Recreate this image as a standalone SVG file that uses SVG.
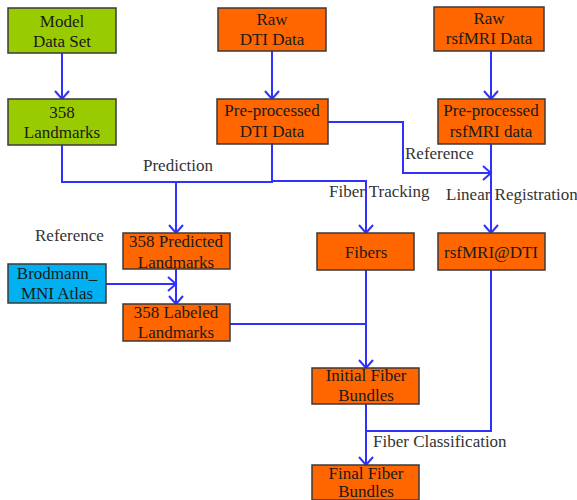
<svg xmlns="http://www.w3.org/2000/svg" width="577" height="500" viewBox="0 0 577 500">
<defs>
<marker id="arr" markerUnits="userSpaceOnUse" markerWidth="16" markerHeight="16" refX="9" refY="8" orient="auto">
<path d="M1,1 L9,8 L1,15" fill="none" stroke="#3030ff" stroke-width="2"/>
</marker>
</defs>
<style>
.box{stroke:#3a3a3a;stroke-width:1.5}
.g{fill:#99cc00}
.o{fill:#ff6600}
.b{fill:#00b0f0}
.t{font-family:"Liberation Serif","Times New Roman",serif;font-size:17px;fill:#1a1a1a;text-anchor:middle}
.l{font-family:"Liberation Serif","Times New Roman",serif;font-size:17px;fill:#333}
.c{fill:none;stroke:#3030ff;stroke-width:2}
</style>
<rect width="577" height="500" fill="#fff"/>
<g id="connectors">
<path class="c" d="M62,53 V99" marker-end="url(#arr)"/>
<path class="c" d="M272,51 V99" marker-end="url(#arr)"/>
<path class="c" d="M491,51 V99" marker-end="url(#arr)"/>
<path class="c" d="M62,145 V182 H273"/>
<path class="c" d="M272,144 V181 H366 V233" marker-end="url(#arr)"/>
<path class="c" d="M176,182 V233" marker-end="url(#arr)"/>
<path class="c" d="M328,122 H403 V173 H491" marker-end="url(#arr)"/>
<path class="c" d="M491,144 V233" marker-end="url(#arr)"/>
<path class="c" d="M176,269 V304" marker-end="url(#arr)"/>
<path class="c" d="M106,284 H176" marker-end="url(#arr)"/>
<path class="c" d="M230,324 H366"/>
<path class="c" d="M366,270 V368" marker-end="url(#arr)"/>
<path class="c" d="M491,270 V431 H366"/>
<path class="c" d="M366,404 V465" marker-end="url(#arr)"/>
<text class="l" x="405" y="159">Reference</text>
<text class="l" x="143" y="171">Prediction</text>
<text class="l" x="329" y="197">Fiber Tracking</text>
<text class="l" x="446" y="200">Linear Registration</text>
<text class="l" x="35" y="241">Reference</text>
<text class="l" x="373" y="447">Fiber Classification</text>
</g>
<g id="model-data-set"><rect class="box g" x="8" y="8" width="108" height="45"/><text class="t" x="62" y="27">Model</text><text class="t" x="62" y="47">Data Set</text></g>
<g id="landmarks-358"><rect class="box g" x="8" y="99" width="108" height="46"/><text class="t" x="62" y="118">358</text><text class="t" x="62" y="138">Landmarks</text></g>
<g id="raw-dti"><rect class="box o" x="218" y="8" width="108" height="43"/><text class="t" x="272" y="25">Raw</text><text class="t" x="272" y="45">DTI Data</text></g>
<g id="pre-dti"><rect class="box o" x="217" y="99" width="111" height="45"/><text class="t" x="272" y="116">Pre-processed</text><text class="t" x="272" y="137">DTI Data</text></g>
<g id="raw-rsfmri"><rect class="box o" x="434" y="7" width="110" height="44"/><text class="t" x="489" y="24">Raw</text><text class="t" x="489" y="44">rsfMRI Data</text></g>
<g id="pre-rsfmri"><rect class="box o" x="438" y="99" width="107" height="45"/><text class="t" x="491" y="116">Pre-processed</text><text class="t" x="491" y="137">rsfMRI data</text></g>
<g id="predicted"><rect class="box o" x="123" y="233" width="107" height="36"/><text class="t" x="176" y="247">358 Predicted</text><text class="t" x="176" y="268">Landmarks</text></g>
<g id="brodmann"><rect class="box b" x="8" y="264" width="98" height="39"/><text class="t" x="57" y="279">Brodmann_</text><text class="t" x="57" y="299">MNI Atlas</text></g>
<g id="labeled"><rect class="box o" x="123" y="304" width="107" height="37"/><text class="t" x="176" y="318">358 Labeled</text><text class="t" x="176" y="338">Landmarks</text></g>
<g id="fibers"><rect class="box o" x="317" y="233" width="97" height="37"/><text class="t" x="366" y="258">Fibers</text></g>
<g id="rsfmri-dti"><rect class="box o" x="438" y="233" width="107" height="37"/><text class="t" x="491" y="258">rsfMRI@DTI</text></g>
<g id="initial"><rect class="box o" x="312" y="368" width="107" height="36"/><text class="t" x="366" y="381">Initial Fiber</text><text class="t" x="366" y="401">Bundles</text></g>
<g id="final"><rect class="box o" x="312" y="465" width="107" height="35"/><text class="t" x="366" y="479">Final Fiber</text><text class="t" x="366" y="497">Bundles</text></g>
</svg>
